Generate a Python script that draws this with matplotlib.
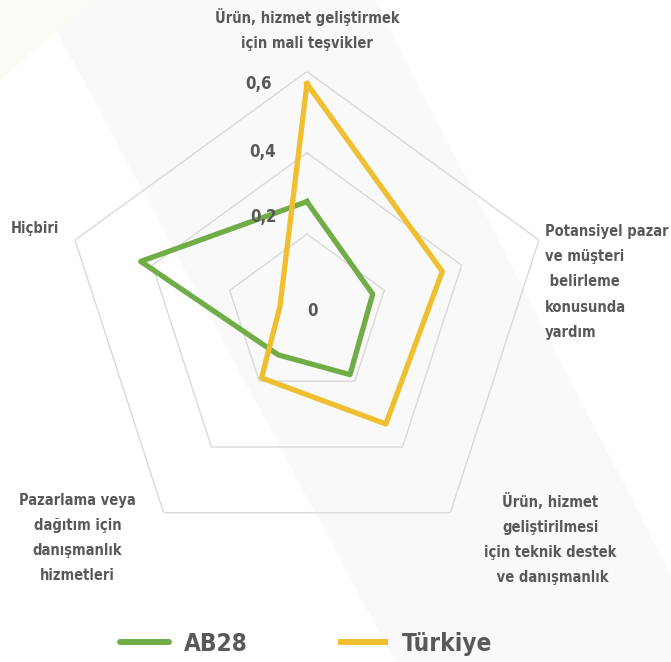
import numpy as np
import matplotlib
matplotlib.use('Agg')
import matplotlib.pyplot as plt
from matplotlib.lines import Line2D
from matplotlib.patches import Polygon

categories = ['Ürün, hizmet geliştirmek\niçin mali teşvikler',
              'Potansiyel pazar\nve müşteri\n belirleme\nkonusunda\nyardım',
              'Ürün, hizmet\ngeliştirilmesi\niçin teknik destek\n ve danışmanlık',
              'Pazarlama veya\ndağıtım için\ndanışmanlık\nhizmetleri',
              'Hiçbiri']
ab28 = [0.28, 0.17, 0.18, 0.12, 0.43]
turkiye = [0.57, 0.35, 0.33, 0.19, 0.07]
ticks = [0, 0.2, 0.4, 0.6]
tick_labels = ['0', '0,2', '0,4', '0,6']
series_names = ['AB28', 'Türkiye']

green = '#70ad47'
yellow = '#f0bf30'
txt = '#595959'
font = ['DejaVu Sans']

fig = plt.figure(figsize=(6.71, 6.62), dpi=100)

# faint slide background
fig.patches.append(Polygon([(40/671, 1), (375/671, 1), (1, 1-575/662), (1, 0), (395/671, 0)],
                           closed=True, transform=fig.transFigure, facecolor='#f9f9f9',
                           edgecolor='none', zorder=-10))
fig.patches.append(Polygon([(0, 1), (95/671, 1), (0, 1-80/662)], closed=True,
                           transform=fig.transFigure, facecolor='#fcfaf4',
                           edgecolor='none', zorder=-10))

ax = fig.add_axes([0.094, 0.155, 0.727, 0.737], projection='polar')
ax.patch.set_alpha(0)
ax.set_theta_zero_location('N')
ax.set_theta_direction(-1)
ax.set_ylim(0, 0.6)
ax.spines['polar'].set_visible(False)
ax.grid(False)
ax.set_xticks([])
ax.set_yticks([])

n = len(categories)
angles = np.linspace(0, 2*np.pi, n, endpoint=False)
closed = np.append(angles, angles[0])

# pentagon gridlines
for t in ticks[1:]:
    ax.plot(closed, [t]*(n+1), color='#d9d9d9', lw=1, zorder=1)

ax.plot(closed, ab28 + ab28[:1], color=green, lw=3.8, zorder=3)
ax.plot(closed, turkiye + turkiye[:1], color=yellow, lw=3.8, zorder=4)

# radial tick labels
tick_offsets = [(6, 4), (-44, 17), (-44, 1), (-48, -12)]
for t, lab, off in zip(ticks, tick_labels, tick_offsets):
    ax.annotate(lab, xy=(0, t), xytext=off, textcoords='offset pixels',
                ha='center', va='center', fontsize=12, fontweight='bold',
                fontstretch='condensed', color=txt, family=font,
                annotation_clip=False, zorder=5)

# category labels
label_pos = [
    ((0, 42), 'center', 'center'),
    ((6, 16), 'left', 'top'),
    ((100, 20), 'center', 'top'),
    ((-86, 20), 'center', 'top'),
    ((-40, 12), 'center', 'center'),
]
for ang, lab, (off, ha, va) in zip(angles, categories, label_pos):
    ax.annotate(lab, xy=(ang, 0.6), xytext=off, textcoords='offset pixels',
                ha=ha, va=va, multialignment='left' if ha == 'left' else 'center',
                fontsize=10.5, fontweight='bold', fontstretch='condensed',
                color=txt, family=font, linespacing=1.85, annotation_clip=False)

handles = [Line2D([], [], color=green, lw=4.3, solid_capstyle='round'),
           Line2D([], [], color=yellow, lw=4.3, solid_capstyle='butt')]
leg = fig.legend(handles, series_names, loc='center', bbox_to_anchor=(306/671, 1-644/662),
                 ncol=2, frameon=False, handlelength=2.05, handletextpad=0.6,
                 columnspacing=3.7, prop={'family': font, 'weight': 'bold', 'size': 17.5,
                                          'stretch': 'condensed'})
for t in leg.get_texts():
    t.set_color(txt)

fig.savefig('out.png', dpi=100)
